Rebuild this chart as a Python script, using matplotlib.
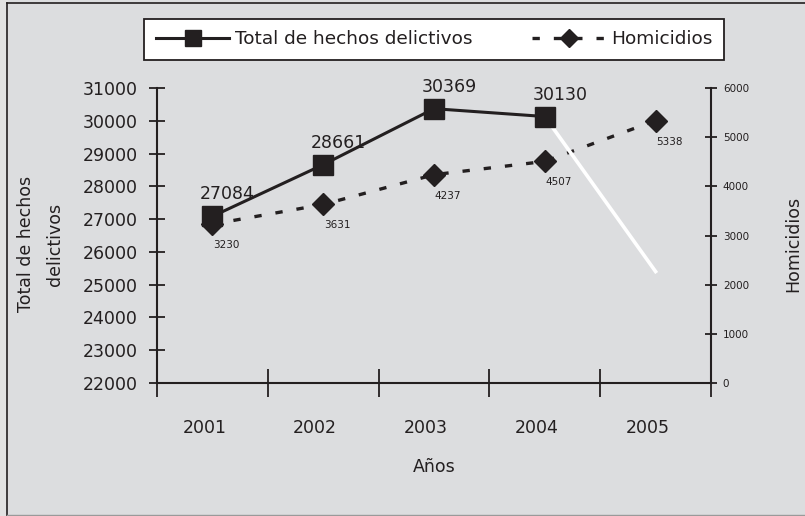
import matplotlib
matplotlib.use("Agg")
import matplotlib.pyplot as plt
from matplotlib.lines import Line2D
from matplotlib.transforms import ScaledTranslation

plt.rcParams['font.family'] = ['DejaVu Sans']

# datos
anios = ['2001', '2002', '2003', '2004', '2005']
total_hechos = [27084, 28661, 30369, 30130, 25400]
homicidios = [3230, 3631, 4237, 4507, 5338]

INK = '#231f20'
BG = '#dcdddf'

fig = plt.figure(figsize=(8.05, 5.16), dpi=100)
fig.patch.set_facecolor(BG)

ax = fig.add_axes([157/805, 1-383/516, (711-157)/805, (383-88)/516])
ax2 = ax.twinx()
ax.set_zorder(ax2.get_zorder() + 1)
ax.patch.set_visible(False)
ax2.patch.set_visible(False)

x = list(range(1, len(anios) + 1))

# homicidios (eje derecho)
ax2.plot(x, homicidios, color=INK, lw=2.4, linestyle=(0, (2.2, 4.2)),
         marker='D', markersize=11, label='Homicidios')
for xi, v in zip(x, homicidios):
    ax2.annotate(str(v), (xi, v), xytext=(14, -21), textcoords='offset pixels',
                 ha='center', va='center', fontsize=7.5, color=INK)

# total de hechos (eje izquierdo)
ax.plot(x[3:], total_hechos[3:], color='white', lw=2.6, zorder=1)
ax.plot(x[:4], total_hechos[:4], color=INK, lw=2.2, marker='s', markersize=15,
        label='Total de hechos delictivos', zorder=2)
for xi, v in zip(x[:4], total_hechos[:4]):
    ax.annotate(str(v), (xi, v), xytext=(15, 22), textcoords='offset pixels',
                ha='center', va='center', fontsize=12.5, color=INK)

ax.set_xlim(0.5, 5.5)
ax.set_ylim(22000, 31000)
ax2.set_ylim(0, 6000)
ax.set_yticks(range(22000, 31001, 1000))
ax2.set_yticks(range(0, 6001, 1000))

ax.set_xticks([0.5, 1.5, 2.5, 3.5, 4.5, 5.5])
ax.set_xticklabels([])
ax.set_xticks(x, minor=True)
ax.set_xticklabels(anios, minor=True)
ax.tick_params(axis='x', which='major', direction='inout', length=20, width=1.3, color=INK)
ax.tick_params(axis='x', which='minor', length=0, pad=26, labelsize=12.5, labelcolor=INK)
ax.tick_params(axis='y', direction='inout', length=12, width=1.3, color=INK,
               pad=8, labelsize=12.5, labelcolor=INK)
ax2.tick_params(axis='y', direction='inout', length=9, width=1.3, color=INK,
                pad=4, labelsize=7.5, labelcolor=INK)
for lab in ax.get_xticklabels(minor=True):
    lab.set_transform(lab.get_transform() + ScaledTranslation(-8/100, 0, fig.dpi_scale_trans))

for a in (ax, ax2):
    a.spines['top'].set_visible(False)
    for s in ('left', 'right', 'bottom'):
        a.spines[s].set_color(INK)
        a.spines[s].set_linewidth(1.5)
ax.spines['right'].set_visible(False)
ax2.spines['left'].set_visible(False)
ax2.spines['bottom'].set_visible(False)

ax.set_xlabel('Años', fontsize=12.5, color=INK)
ax.xaxis.set_label_coords(0.5, -0.255)
ax.set_ylabel('Total de hechos\ndelictivos', fontsize=12.5, color=INK, linespacing=1.75)
ax.yaxis.set_label_coords(-0.168, 0.47)
ax2.set_ylabel('Homicidios', fontsize=12.5, color=INK)
ax2.yaxis.set_label_coords(1.133, 0.47)

h1, l1 = ax.get_legend_handles_labels()
h2, l2 = ax2.get_legend_handles_labels()
leg = fig.legend(h1 + h2, l1 + l2, loc='center', bbox_to_anchor=(434/805, 1-39.5/516),
                 ncol=2, fontsize=13.3, frameon=True, fancybox=False,
                 edgecolor=INK, facecolor='white', framealpha=1,
                 handlelength=4.0, handletextpad=0.3, columnspacing=3.2,
                 borderpad=0.6, borderaxespad=0)
leg.get_frame().set_linewidth(1.3)
for t in leg.get_texts():
    t.set_color(INK)
leg.legend_handles[0].set_markersize(11)
leg.legend_handles[1].set_markersize(9)

# marco exterior
fig.add_artist(Line2D([7/805, 7/805], [0, 1-3/516], color=INK, lw=1.2))
fig.add_artist(Line2D([7/805, 1], [1-3/516, 1-3/516], color=INK, lw=1.2))
fig.add_artist(Line2D([7/805, 1], [1/516, 1/516], color='#9a9a9a', lw=1.0))
fig.add_artist(plt.Rectangle((0, 0), 7/805, 1, color='#e2e2e2', zorder=-1))

fig.savefig('out.png', dpi=100, facecolor=fig.get_facecolor())
